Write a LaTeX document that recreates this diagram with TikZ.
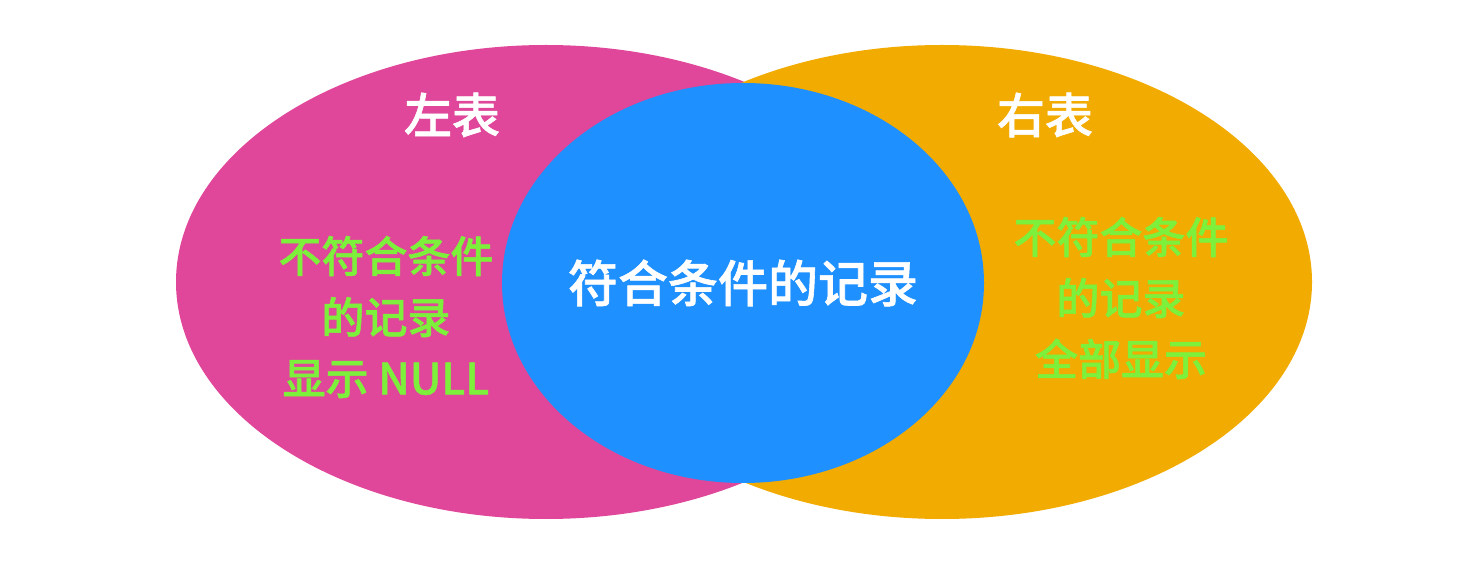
\documentclass[tikz,border=0pt]{standalone}
\usepackage{fontspec}
\newfontfamily\cjk[FakeBold=1.2]{Noto Sans CJK SC Medium}
\definecolor{vnpink}{RGB}{224,70,153}
\definecolor{vnorange}{RGB}{242,171,0}
\definecolor{vnblue}{RGB}{30,144,255}
\definecolor{vngreen}{RGB}{125,240,60}
\usetikzlibrary{shapes.geometric}

\begin{document}
\begin{tikzpicture}[x=0.5pt, y=-0.5pt,
    tbl/.style={ellipse, inner sep=0pt, draw=none,
                minimum width=370pt, minimum height=237pt},
    mid/.style={ellipse, inner sep=0pt, draw=none, fill=vnblue,
                minimum width=241pt, minimum height=200pt},
    ttl/.style={text=white, font=\cjk\fontsize{24}{28}\selectfont},
    note/.style={text=vngreen, align=center, font=\cjk\fontsize{21.5}{30.5}\selectfont}
  ]
    \useasboundingbox (0,0) rectangle (1472,566);

    % Tables
    \node[tbl, fill=vnpink]   (lt)  at (546,282) {};
    \node[tbl, fill=vnorange] (rt)  at (942,282) {};
    \node[mid]                (mt)  at (743,283) {};

    % Titles
    \node[ttl] (ltname) at (452,115) {左表};
    \node[ttl] (rtname) at (1045,115) {右表};
    \node[ttl, font=\cjk\fontsize{25}{28}\selectfont] (mtname) at (743,283) {符合条件的记录};

    % Notes
    \node[note] (lnote) at (386,317) {不符合条件\\的记录\\显示 NULL};
    \node[note] (rnote) at (1121,298) {不符合条件\\的记录\\全部显示};
  \end{tikzpicture}
\end{document}
